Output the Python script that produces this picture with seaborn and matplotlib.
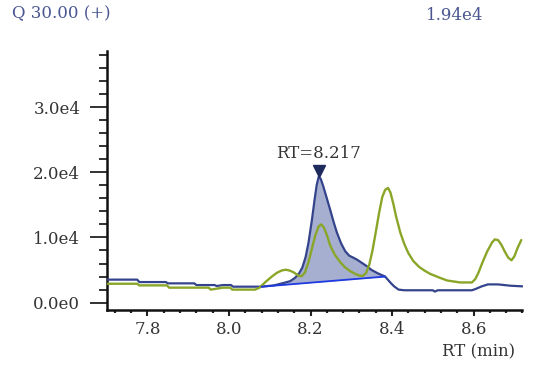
import numpy as np
import pandas as pd
import matplotlib
matplotlib.use("Agg")
import matplotlib.pyplot as plt
import matplotlib.transforms as mtransforms
from matplotlib.ticker import FixedLocator, MultipleLocator
import seaborn as sns

# ---- data ----
blue_rt = [7.700, 7.775, 7.780, 7.845, 7.850, 7.915, 7.920, 7.965, 7.970, 7.985,
           8.005, 8.010, 8.080, 8.110, 8.133, 8.150, 8.162, 8.172, 8.180, 8.188,
           8.195, 8.203, 8.210, 8.215, 8.220, 8.225, 8.231, 8.240, 8.248, 8.257,
           8.265, 8.275, 8.285, 8.295, 8.305, 8.314, 8.326, 8.338, 8.350, 8.365,
           8.383, 8.390, 8.397, 8.405, 8.416, 8.430, 8.500, 8.505, 8.512, 8.596,
           8.605, 8.620, 8.635, 8.660, 8.690, 8.720]
blue_int = [3530, 3530, 3160, 3160, 2960, 2960, 2700, 2700, 2550, 2700,
            2700, 2450, 2450, 2650, 3000, 3300, 3800, 4500, 5400, 7000,
            9200, 12500, 15800, 18000, 19300, 19000, 17900, 16000, 14300, 12300,
            10700, 9100, 7900, 7200, 6900, 6600, 6100, 5600, 5000, 4500,
            4000, 3500, 3000, 2500, 2000, 1900, 1900, 1700, 1900, 1900,
            2100, 2500, 2800, 2800, 2600, 2500]

green_rt = [7.700, 7.775, 7.780, 7.848, 7.853, 7.950, 7.955, 7.970, 7.985, 8.003,
            8.008, 8.064, 8.075, 8.090, 8.105, 8.118, 8.130, 8.140, 8.150, 8.160,
            8.170, 8.178, 8.186, 8.195, 8.203, 8.212, 8.220, 8.226, 8.232, 8.240,
            8.248, 8.260, 8.273, 8.285, 8.297, 8.310, 8.320, 8.328, 8.336, 8.344,
            8.352, 8.360, 8.368, 8.376, 8.383, 8.390, 8.396, 8.403, 8.410, 8.420,
            8.430, 8.440, 8.452, 8.466, 8.480, 8.494, 8.518, 8.535, 8.567, 8.596,
            8.604, 8.612, 8.622, 8.633, 8.645, 8.652, 8.660, 8.668, 8.676, 8.685,
            8.693, 8.700, 8.708, 8.717]
green_int = [2900, 2900, 2650, 2650, 2300, 2300, 2000, 2150, 2300, 2300,
             2000, 2000, 2300, 3200, 4000, 4600, 4950, 5050, 4900, 4600,
             4150, 4050, 4600, 6200, 8200, 10400, 11700, 12000, 11600, 10400,
             8800, 7300, 6200, 5400, 4850, 4400, 4150, 4100, 4500, 5800,
             8000, 10800, 13700, 16200, 17300, 17600, 16900, 15200, 13200, 10800,
             9000, 7600, 6400, 5500, 4900, 4400, 3800, 3400, 3100, 3100,
             3600, 4600, 6200, 7800, 9200, 9700, 9600, 8900, 7900, 6900,
             6500, 7100, 8400, 9600]

baseline_rt = [8.080, 8.383]
baseline_int = [2450, 4000]

peak_rt = 8.220
peak_int = 19300
peak_label = "RT=8.217"

y_ticks = [0, 10000, 20000, 30000]
y_tick_labels = ["0.0e0", "1.0e4", "2.0e4", "3.0e4"]
x_ticks = [7.8, 8.0, 8.2, 8.4, 8.6]
x_tick_labels = ["7.8", "8.0", "8.2", "8.4", "8.6"]

title_left = "Q 30.00 (+)"
title_right = "1.94e4"
x_label = "RT (min)"

# ---- styling ----
sns.set_style("ticks")
plt.rcParams["font.family"] = ["DejaVu Serif", "DejaVu Sans"]

BLUE = "#34448c"
GREEN = "#8aa628"
BASE = "#1f3ae0"
FILL = "#97a1c8"
TXT = "#333333"
TITLE = "#4a5692"

fig = plt.figure(figsize=(5.55, 3.66), dpi=100)
ax = fig.add_axes([106.7 / 555, 56.5 / 366, (522.5 - 106.7) / 555, (309.5 - 51) / 366])

df_blue = pd.DataFrame({"rt": blue_rt, "intensity": blue_int})
df_green = pd.DataFrame({"rt": green_rt, "intensity": green_int})
df_base = pd.DataFrame({"rt": baseline_rt, "intensity": baseline_int})

# fill between blue trace and integration baseline
b_rt = np.array(blue_rt)
b_in = np.array(blue_int)
mask = (b_rt >= baseline_rt[0]) & (b_rt <= baseline_rt[1])
f_rt = b_rt[mask]
f_top = b_in[mask]
f_bot = np.interp(f_rt, baseline_rt, baseline_int)
ax.fill_between(f_rt, f_bot, f_top, color=FILL, alpha=0.85, linewidth=0, zorder=1)

sns.lineplot(data=df_blue, x="rt", y="intensity", ax=ax, color=BLUE,
             linewidth=1.6, estimator=None, sort=False, zorder=3)
sns.lineplot(data=df_green, x="rt", y="intensity", ax=ax, color=GREEN,
             linewidth=1.7, estimator=None, sort=False, zorder=4)
sns.lineplot(data=df_base, x="rt", y="intensity", ax=ax, color=BASE,
             linewidth=1.3, estimator=None, sort=False, zorder=5)

# apex marker (tip at the apex)
trans = mtransforms.offset_copy(ax.transData, fig=fig, x=0, y=4, units="points")
ax.plot([peak_rt], [peak_int], marker="v", markersize=9, color="#1f2a5c",
        linestyle="none", transform=trans, zorder=6)
ax.annotate(peak_label, xy=(peak_rt, peak_int), xytext=(0, 11),
            textcoords="offset points", ha="center", va="bottom",
            fontsize=12, color=TXT)

ax.set_xlim(7.70, 8.72)
ax.set_ylim(-1050, 38600)

ax.xaxis.set_major_locator(FixedLocator(x_ticks))
ax.set_xticklabels(x_tick_labels)
ax.xaxis.set_minor_locator(MultipleLocator(0.04))
ax.yaxis.set_major_locator(FixedLocator(y_ticks))
ax.set_yticklabels(y_tick_labels)
ax.yaxis.set_minor_locator(MultipleLocator(2000))

ax.tick_params(axis="x", which="major", length=4, width=1.5, colors="#222222",
               labelsize=12, labelcolor=TXT, pad=4)
ax.tick_params(axis="x", which="minor", length=1.8, width=1.6, colors="#222222")
ax.tick_params(axis="y", which="major", length=12, width=1.3, colors="#222222",
               labelsize=12, labelcolor=TXT, pad=7)
ax.tick_params(axis="y", which="minor", length=6, width=1.3, colors="#222222")

for s in ["top", "right"]:
    ax.spines[s].set_visible(False)
for s in ["left", "bottom"]:
    ax.spines[s].set_linewidth(1.8)
    ax.spines[s].set_color("#111111")

ax.set_xlabel("")
ax.set_ylabel("")

fig.text(515 / 555, 1 - 352 / 366, x_label, ha="right", va="center",
         fontsize=12, color=TXT)
fig.text(12 / 555, 1 - 14 / 366, title_left, ha="left", va="center",
         fontsize=12, color=TITLE)
fig.text(483 / 555, 1 - 15 / 366, title_right, ha="right", va="center",
         fontsize=12, color=TITLE)

fig.savefig("out.png", dpi=100)
